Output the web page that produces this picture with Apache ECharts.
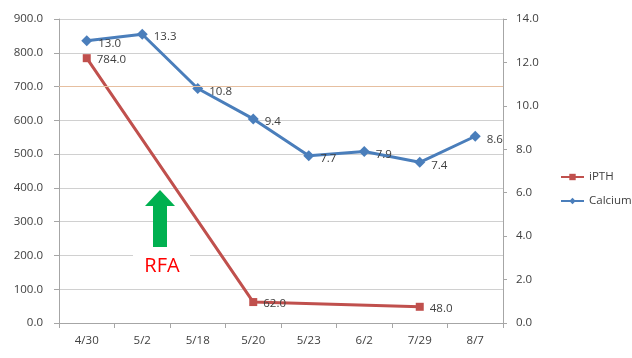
<!DOCTYPE html>
<html>
<head>
<meta charset="utf-8">
<script src="https://cdn.jsdelivr.net/npm/echarts@6/dist/echarts.min.js"></script>
<style>
html,body{margin:0;padding:0;background:#fff;}
#chart{width:632px;height:358px;}
</style>
</head>
<body>
<div id="chart"></div>
<script>
const categories = ['4/30','5/2','5/18','5/20','5/23','6/2','7/29','8/7'];
const iPTH = [784.0, null, null, 62.0, null, null, 48.0, null];
const calcium = [13.0, 13.3, 10.8, 9.4, 7.7, 7.9, 7.4, 8.6];
const leftTicks = {min: 0, max: 900, interval: 100};
const rightTicks = {min: 0, max: 14, interval: 2};

const FONT = '"Open Sans", "Noto Sans", sans-serif';
const FS = 11.5;
const TXT = '#404040';
const chart = echarts.init(document.getElementById('chart'), null, {renderer: 'canvas'});
chart.setOption({
  backgroundColor: '#ffffff',
  animation: false,
  textStyle: {fontFamily: FONT},
  grid: {left: 59, right: 129, top: 19, bottom: 35},
  legend: {
    orient: 'vertical', left: 555, top: 166, itemWidth: 23, itemHeight: 8, itemGap: 12,
    textStyle: {fontSize: FS, color: TXT, fontFamily: FONT},
    data: ['iPTH', 'Calcium']
  },
  xAxis: {
    type: 'category', data: categories, boundaryGap: true,
    axisLine: {lineStyle: {color: '#a6a6a6'}},
    axisTick: {show: true, alignWithLabel: false, length: 5, lineStyle: {color: '#a6a6a6'}},
    axisLabel: {margin: 12, fontSize: FS, color: TXT, fontFamily: FONT}
  },
  yAxis: [{
    type: 'value', min: leftTicks.min, max: leftTicks.max, interval: leftTicks.interval,
    axisLine: {show: true, lineStyle: {color: '#a6a6a6'}},
    axisTick: {show: true, length: 5, lineStyle: {color: '#a6a6a6'}},
    axisLabel: {margin: 16, fontSize: FS, color: TXT, fontFamily: FONT, formatter: v => v.toFixed(1)},
    splitLine: {show: true, lineStyle: {color: '#d0d0d0'}}
  }, {
    type: 'value', min: rightTicks.min, max: rightTicks.max, interval: rightTicks.interval,
    position: 'right',
    axisLine: {show: true, lineStyle: {color: '#a6a6a6'}},
    axisTick: {show: true, length: 4, lineStyle: {color: '#a6a6a6'}},
    axisLabel: {margin: 13, fontSize: FS, color: TXT, fontFamily: FONT, formatter: v => v.toFixed(1)},
    splitLine: {show: false}
  }],
  series: [{
    name: 'iPTH', type: 'line', yAxisIndex: 0, data: iPTH, connectNulls: true,
    symbol: 'rect', symbolSize: 8,
    lineStyle: {color: '#c0504d', width: 3},
    itemStyle: {color: '#c0504d'},
    label: {show: true, position: 'right', distance: 6, offset: [0, 2], fontSize: FS, color: TXT, fontFamily: FONT,
      formatter: p => p.value == null ? '' : Number(p.value).toFixed(1)},
    markLine: {silent: true, symbol: 'none', label: {show: false},
      lineStyle: {color: '#e6bfa0', width: 1, type: 'solid'}, data: [{yAxis: 700}]},
    z: 3
  }, {
    name: 'Calcium', type: 'line', yAxisIndex: 1, data: calcium,
    symbol: 'diamond', symbolSize: 11,
    lineStyle: {color: '#4a7ebb', width: 3},
    itemStyle: {color: '#4a7ebb'},
    label: {show: true, position: 'right', distance: 6, offset: [0, 3], fontSize: FS, color: TXT, fontFamily: FONT,
      formatter: p => Number(p.value).toFixed(1)},
    z: 4
  }],
  graphic: [{
    type: 'rect', shape: {x: 133, y: 250, width: 57, height: 32}, style: {fill: '#ffffff'}, z: 1
  }, {
    type: 'polygon', z: 2,
    shape: {points: [[160,190],[175,206],[167,206],[167,247],[153,247],[153,206],[145,206]]},
    style: {fill: '#00b050'}
  }, {
    type: 'text', z: 2, x: 162, y: 266,
    style: {text: 'RFA', fill: '#ff0000', fontSize: 20, fontFamily: FONT, align: 'center', verticalAlign: 'middle'}
  }]
});
</script>
</body>
</html>
